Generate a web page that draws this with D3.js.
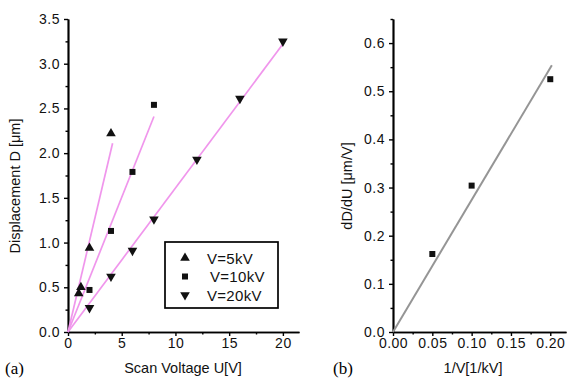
<!DOCTYPE html>
<html>
<head>
<meta charset="utf-8">
<script src="https://cdn.jsdelivr.net/npm/d3@7"></script>
<style>
  body { margin: 0; background: #fff; }
  svg text { font-family: "Liberation Sans", Arial, sans-serif; }
  .tick text { font-size: 14px; letter-spacing: 0.5px; }
</style>
</head>
<body>
<svg width="569" height="379"></svg>
<script>
// panel (a): displacement vs scan voltage
var u5 = [1, 1.2, 2, 4];
var d5 = [0.43, 0.5, 0.94, 2.22];
var u10 = [2, 4, 6, 8];
var d10 = [0.47, 1.13, 1.79, 2.54];
var u20 = [2, 4, 6, 8, 12, 16, 20];
var d20 = [0.27, 0.62, 0.91, 1.26, 1.93, 2.61, 3.25];
// fitted lines: start and end points
var fit5 = [[0, 0], [4.15, 2.11]];
var fit10 = [[0, 0], [8.0, 2.41]];
var fit20 = [[0, 0], [20, 3.22]];
var legendLabels = ['V=5kV', 'V=10kV', 'V=20kV'];

// panel (b): slope vs 1/V
var invV = [0.05, 0.1, 0.2];
var slope = [0.162, 0.304, 0.525];
var fitB = [[0, 0], [0.202, 0.554]];

var xTicksA = [0, 5, 10, 15, 20];
var yTicksA = [0, 0.5, 1, 1.5, 2, 2.5, 3, 3.5];
var xTicksB = [0, 0.05, 0.1, 0.15, 0.2];
var yTicksB = [0, 0.1, 0.2, 0.3, 0.4, 0.5, 0.6];

var svg = d3.select('svg');
var pink = '#f096ec';

// scales
var xa = d3.scaleLinear().domain([0, 21.5]).range([68, 299]);
var ya = d3.scaleLinear().domain([0, 3.5]).range([332, 19]);
var xb = d3.scaleLinear().domain([0, 0.22]).range([393, 566]);
var yb = d3.scaleLinear().domain([0, 0.65]).range([332, 19]);

function range(a, b, s) {
  var out = [];
  for (var v = a; v <= b + 1e-9; v += s) out.push(+v.toFixed(4));
  return out;
}

function drawAxes(x, y, xt, yt, xf, yf, xminor, yminor) {
  var y0 = y.range()[0], x0 = x.range()[0];
  // minor ticks
  svg.append('g').attr('transform', 'translate(0,' + y0 + ')')
    .call(d3.axisBottom(x).tickValues(xminor).tickSize(2.5).tickSizeOuter(0).tickFormat(''));
  svg.append('g').attr('transform', 'translate(' + x0 + ',0)')
    .call(d3.axisLeft(y).tickValues(yminor).tickSize(2.5).tickSizeOuter(0).tickFormat(''));
  // major ticks
  svg.append('g').attr('transform', 'translate(0,' + y0 + ')')
    .call(d3.axisBottom(x).tickValues(xt).tickSize(4).tickPadding(2).tickSizeOuter(0).tickFormat(xf));
  svg.append('g').attr('transform', 'translate(' + x0 + ',0)')
    .call(d3.axisLeft(y).tickValues(yt).tickSize(4).tickPadding(4).tickSizeOuter(0).tickFormat(yf));
}

drawAxes(xa, ya, xTicksA, yTicksA, d3.format('d'), d3.format('.1f'),
  range(2.5, 20, 5), range(0.25, 3.25, 0.5));
drawAxes(xb, yb, xTicksB, yTicksB, d3.format('.2f'), d3.format('.1f'),
  range(0.025, 0.2, 0.05), range(0.05, 0.65, 0.1));

svg.selectAll('.domain').attr('stroke-width', 1.7);
svg.selectAll('.tick line').attr('stroke-width', 1.4);
svg.selectAll('.tick text').attr('fill', '#111');

// fit lines
var lineA = d3.line().x(function (d) { return xa(d[0]); }).y(function (d) { return ya(d[1]); });
[fit5, fit10, fit20].forEach(function (f) {
  svg.append('path').attr('d', lineA(f)).attr('stroke', pink).attr('stroke-width', 1.7).attr('fill', 'none');
});
var lineB = d3.line().x(function (d) { return xb(d[0]); }).y(function (d) { return yb(d[1]); });
svg.append('path').attr('d', lineB(fitB)).attr('stroke', '#959595').attr('stroke-width', 2).attr('fill', 'none');

// markers
var tri = d3.symbol().type(d3.symbolTriangle).size(40);
var sq = d3.symbol().type(d3.symbolSquare).size(36);

function markers(xs, ys, sx, sy, sym, rot) {
  svg.append('g').selectAll('path')
    .data(xs)
    .enter()
    .append('path')
    .attr('d', sym)
    .attr('fill', '#111')
    .attr('transform', function (d, i) {
      return 'translate(' + sx(d) + ',' + sy(ys[i]) + ') rotate(' + rot + ')';
    });
}
markers(u5, d5, xa, ya, tri, 0);
markers(u10, d10, xa, ya, sq, 0);
markers(u20, d20, xa, ya, tri, 180);
markers(invV, slope, xb, yb, sq, 0);

// legend
var lg = svg.append('g');
lg.append('rect').attr('x', 165).attr('y', 242).attr('width', 113).attr('height', 66)
  .attr('fill', '#fff').attr('stroke', '#000').attr('stroke-width', 1.7);
var syms = [[tri, 0], [sq, 0], [tri, 180]];
var textX = [207, 210, 207];
legendLabels.forEach(function (t, i) {
  var yy = 258 + i * 18.5;
  lg.append('path').attr('d', syms[i][0]).attr('fill', '#111')
    .attr('transform', 'translate(185,' + yy + ') rotate(' + syms[i][1] + ')');
  lg.append('text').attr('x', textX[i]).attr('y', yy + 5.5).attr('font-size', 15)
    .attr('letter-spacing', 0.3).attr('fill', '#111').text(t);
});

// axis titles
svg.append('text').attr('x', 183).attr('y', 373).attr('text-anchor', 'middle')
  .attr('font-size', 14.5).attr('fill', '#111').text('Scan Voltage U[V]');
svg.append('text').attr('x', 473).attr('y', 373).attr('text-anchor', 'middle')
  .attr('font-size', 14.5).attr('fill', '#111').text('1/V[1/kV]');
svg.append('text').attr('transform', 'translate(20,186) rotate(-90)').attr('text-anchor', 'middle')
  .attr('font-size', 14.5).attr('fill', '#111').text('Displacement D [μm]');
svg.append('text').attr('transform', 'translate(352,186) rotate(-90)').attr('text-anchor', 'middle')
  .attr('font-size', 14.5).attr('fill', '#111').text('dD/dU [μm/V]');

// panel labels
svg.append('text').attr('x', 5).attr('y', 374).attr('font-size', 17)
  .style('font-family', '"Liberation Serif", "Times New Roman", serif').text('(a)');
svg.append('text').attr('x', 333).attr('y', 374).attr('font-size', 17)
  .style('font-family', '"Liberation Serif", "Times New Roman", serif').text('(b)');
</script>
</body>
</html>
